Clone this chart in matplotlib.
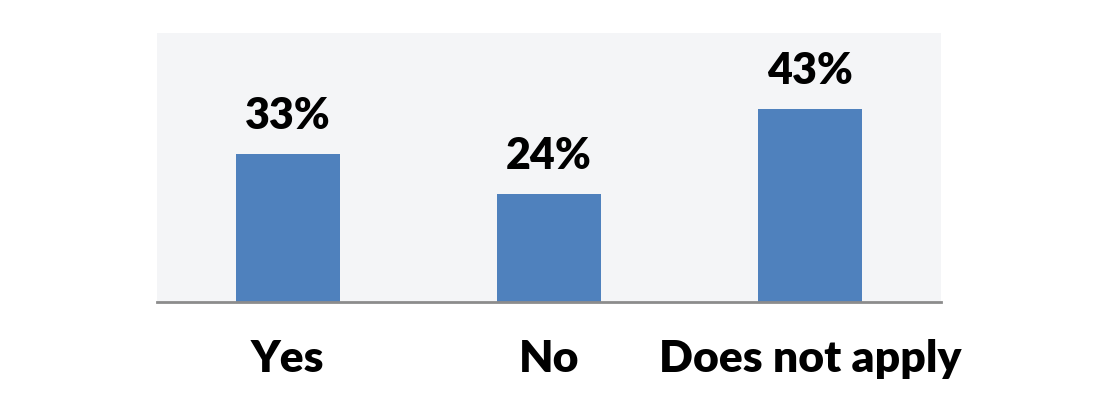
import matplotlib.pyplot as plt

categories = ["Yes", "No", "Does not apply"]
values = [33, 24, 43]

plt.rcParams['font.family'] = ['Lato', 'DejaVu Sans']

fig = plt.figure(figsize=(11, 4.2), dpi=100)
ax = fig.add_axes([0.143, 0.281, 0.712, 0.640])
ax.set_facecolor('#f4f5f7')

x = range(len(categories))
bars = ax.bar(x, values, width=0.4, color='#4f81bd', zorder=2)

# percentage labels above the bars
for b, v in zip(bars, values):
    ax.annotate(f"{v}%", (b.get_x() + b.get_width() / 2, b.get_height()),
                xytext=(0, 13), textcoords='offset points', ha='center', va='bottom',
                fontsize=31, fontweight='heavy', color='black')

ax.set_xlim(-0.5, 2.5)
ax.set_ylim(0, 60)
ax.set_xticks(list(x))
ax.set_xticklabels(categories, fontsize=32, fontweight='heavy')
ax.tick_params(axis='x', length=0, pad=27)
ax.set_yticks([])

for s in ['top', 'left', 'right']:
    ax.spines[s].set_visible(False)
ax.spines['bottom'].set_color('#8c8c8c')
ax.spines['bottom'].set_linewidth(2)

fig.savefig('out.png', dpi=100, facecolor='white')
